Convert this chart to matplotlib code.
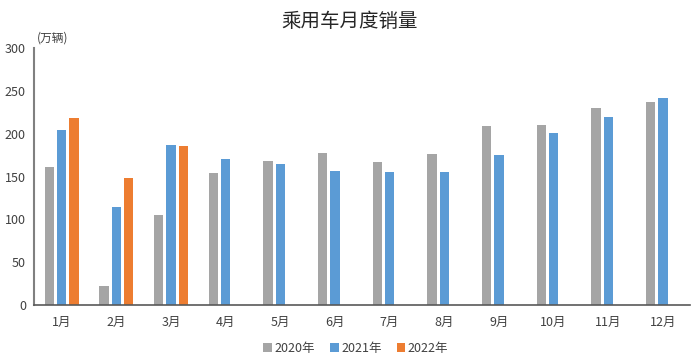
import matplotlib
matplotlib.use('Agg')
import matplotlib.pyplot as plt
import numpy as np

plt.rcParams['font.family'] = ['Noto Sans CJK SC', 'DejaVu Sans']

months = ['1月', '2月', '3月', '4月', '5月', '6月', '7月', '8月', '9月', '10月', '11月', '12月']
sales_2020 = [161, 22, 105, 154, 168, 177, 167, 176, 209, 210, 230, 237]
sales_2021 = [204, 115, 187, 170, 165, 157, 155, 155, 175, 201, 219, 242]
sales_2022 = [218, 148, 186]

fig = plt.figure(figsize=(7, 3.61), dpi=100)
ax = fig.add_axes([0.049, 0.155, 0.937, 0.712])

x = np.arange(len(months))
w = 0.17
off = 0.225
ax.bar(x - off, sales_2020, w, color='#a5a5a5', label='2020年')
ax.bar(x, sales_2021, w, color='#5b9bd5', label='2021年')
ax.bar(x[:len(sales_2022)] + off, sales_2022, w, color='#ed7d31', label='2022年')

ax.set_xlim(-0.5, 11.5)
ax.set_ylim(0, 300)
ax.set_yticks(range(0, 301, 50))
ax.set_xticks(x)
ax.set_xticklabels(months)
ax.tick_params(length=0, labelsize=9, colors='#404040', pad=8)
ax.tick_params(axis='y', pad=6)
for s in ['top', 'right']:
    ax.spines[s].set_visible(False)
ax.spines['left'].set_color('#808080')
ax.spines['left'].set_linewidth(1.5)
ax.spines['bottom'].set_color('#595959')
ax.spines['bottom'].set_linewidth(1.2)

fig.text(0.053, 0.885, '(万辆)', fontsize=8.5, color='#404040')
fig.text(0.5, 0.94, '乘用车月度销量', fontsize=14, color='#262626', ha='center', va='center')

ax.legend(loc='center', bbox_to_anchor=(0.49, -0.17), ncol=3, frameon=False,
          fontsize=9, handlelength=0.7, handleheight=0.7, handletextpad=0.2,
          columnspacing=1.2, labelcolor='#404040')

fig.savefig('out.png', dpi=100)
